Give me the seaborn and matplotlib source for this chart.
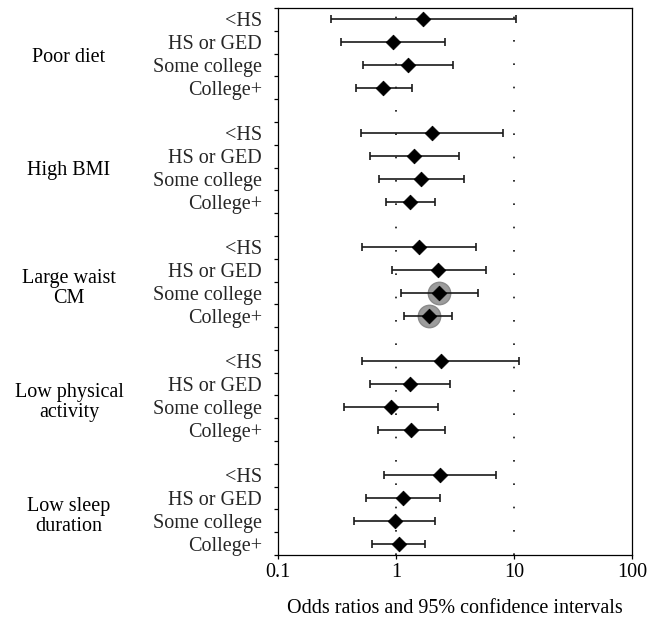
import numpy as np
import pandas as pd
import matplotlib
matplotlib.use("Agg")
import matplotlib.pyplot as plt
from matplotlib.ticker import FixedLocator, NullFormatter, FixedFormatter
import matplotlib.transforms as mtransforms
import seaborn as sns

# ---- data ----
groups = ["Poor diet", "High BMI", "Large waist\nCM", "Low physical\nactivity", "Low sleep\nduration"]
levels = ["<HS", "HS or GED", "Some college", "College+"]
odds = [1.70, 0.94, 1.26, 0.78,
        2.02, 1.43, 1.63, 1.31,
        1.56, 2.28, 2.31, 1.90,
        2.39, 1.31, 0.91, 1.34,
        2.38, 1.15, 0.98, 1.05]
ci_low = [0.28, 0.34, 0.525, 0.455,
          0.505, 0.60, 0.72, 0.82,
          0.515, 0.925, 1.10, 1.18,
          0.515, 0.60, 0.365, 0.70,
          0.79, 0.553, 0.443, 0.63]
ci_high = [10.4, 2.62, 3.02, 1.37,
           8.07, 3.40, 3.77, 2.13,
           4.73, 5.75, 4.92, 2.98,
           10.96, 2.87, 2.27, 2.62,
           7.08, 2.36, 2.14, 1.75]
highlight = [False, False, False, False,
             False, False, False, False,
             False, False, True, True,
             False, False, False, False,
             False, False, False, False]
xticks = [0.1, 1, 10, 100]
xticklabels = ["0.1", "1", "10", "100"]

# ---- frame ----
rows = []
for gi, g in enumerate(groups):
    for li, lv in enumerate(levels):
        k = gi * len(levels) + li
        rows.append(dict(group=g, level=lv, row=gi * (len(levels) + 1) + li,
                         OR=odds[k], lo=ci_low[k], hi=ci_high[k], sig=highlight[k]))
df = pd.DataFrame(rows)
nrows = len(groups) * (len(levels) + 1) - 1

sns.set_theme(style="white")
plt.rcParams["font.family"] = ["Liberation Serif", "DejaVu Serif"]
FS = 14.5

fig = plt.figure(figsize=(6.47, 6.22), dpi=100)
ax = fig.add_axes([278 / 647, 1 - 555 / 622, (632 - 278) / 647, (555 - 8) / 622])

ax.set_xscale("log")
ax.set_xlim(0.1, 100)
ax.set_ylim(nrows - 0.5, -0.5)

# reference lines
for v in [1, 10]:
    ax.axvline(v, color="#111111", lw=1.2, linestyle=(0, (1, 13)), zorder=0)

# highlighted (significant) circles
sns.scatterplot(data=df[df["sig"]], x="OR", y="row", ax=ax, marker="o", s=260,
                color="#9c9c9c", edgecolor="#8a8a8a", linewidth=1.0, zorder=2, legend=False)

# error bars
ax.errorbar(df["OR"], df["row"], xerr=[df["OR"] - df["lo"], df["hi"] - df["OR"]],
            fmt="none", ecolor="#1a1a1a", elinewidth=1.2, capsize=3, capthick=1.2, zorder=3)

# point estimates
sns.scatterplot(data=df, x="OR", y="row", ax=ax, marker="D", s=55,
                color="black", edgecolor="black", linewidth=0.6, zorder=4, legend=False)

# axes styling
for sp in ax.spines.values():
    sp.set_color("black")
    sp.set_linewidth(0.9)

ax.xaxis.set_major_locator(FixedLocator(xticks))
ax.xaxis.set_major_formatter(FixedFormatter(xticklabels))
ax.xaxis.set_minor_locator(FixedLocator([]))
ax.tick_params(axis="x", which="major", direction="out", length=3, width=0.9,
               labelsize=FS, pad=3, bottom=True, colors="black")

ax.set_yticks(df["row"].tolist())
ax.set_yticklabels(df["level"].tolist(), fontsize=FS)
ax.tick_params(axis="y", which="major", length=0, pad=11.5, left=True)
ax.yaxis.set_minor_locator(FixedLocator(np.arange(-0.5, nrows, 1.0)))
ax.yaxis.set_minor_formatter(NullFormatter())
ax.tick_params(axis="y", which="minor", direction="out", length=3, width=0.9, left=True, colors="black")

ax.set_xlabel("Odds ratios and 95% confidence intervals", fontsize=FS, labelpad=12, color="black")
ax.set_ylabel("")
ax.grid(False)

# group labels
trans = mtransforms.blended_transform_factory(fig.transFigure, ax.transData)
for gi, g in enumerate(groups):
    start = gi * (len(levels) + 1)
    center = start + (len(levels) - 1) / 2
    nl = g.count("\n")
    offset = 0.15 if nl == 0 else 0.3
    ax.text(69 / 647, center + offset, g, transform=trans, ha="center", va="center",
            fontsize=FS, linespacing=1.05, color="black")

fig.savefig("out.png", dpi=100)
